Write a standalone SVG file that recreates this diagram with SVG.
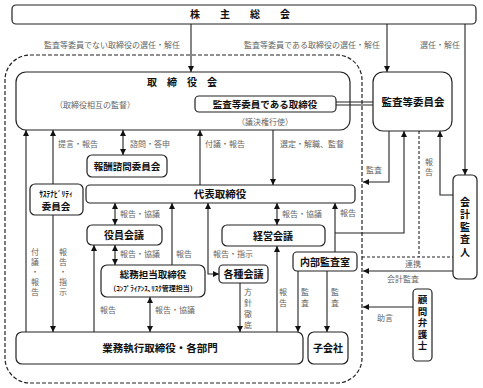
<svg xmlns="http://www.w3.org/2000/svg" width="483" height="388" viewBox="0 0 483 388">
<defs>
<marker id="a" markerUnits="userSpaceOnUse" markerWidth="7" markerHeight="6" refX="6" refY="3" orient="auto-start-reverse"><path d="M0,0 L6,3 L0,6 z" fill="#111"/></marker>
<style>
.bx{fill:#fff;stroke:#222;stroke-width:1.2}
.ln{fill:none;stroke:#222;stroke-width:1.1}
.ar{marker-end:url(#a)}
.da{marker-start:url(#a);marker-end:url(#a)}
.t{font-family:"Noto Sans CJK JP","Noto Sans CJK SC",sans-serif;font-weight:bold;fill:#111;text-anchor:middle}
.l{font-family:"Noto Sans CJK JP","Noto Sans CJK SC",sans-serif;font-size:8px;fill:#666}
.c{text-anchor:middle}
.v{writing-mode:vertical-rl;text-anchor:start}
</style>
</defs>
<rect width="483" height="388" fill="#fff"/>
<rect x="5" y="55" width="357" height="328" rx="25" fill="none" stroke="#222" stroke-width="1.2" stroke-dasharray="4 2"/>

<g id="shareholders"><rect class="bx" x="12" y="5" width="464" height="19" rx="4"/><text class="t" x="240" y="18" font-size="10" textLength="100" lengthAdjust="spacing">株主総会</text></g>
<g id="board"><rect class="bx" x="16" y="72" width="334" height="58" rx="10"/><text class="t" x="182" y="86" font-size="10" textLength="70" lengthAdjust="spacing">取締役会</text><text class="l c" x="95" y="108" font-size="8.5">（取締役相互の監督）</text></g>
<g id="audit-director"><rect class="bx" x="195" y="96" width="141" height="16" rx="4"/><text class="t" x="265" y="107.5" font-size="9.5">監査等委員である取締役</text><text class="l c" x="265" y="125" font-size="8.5">（議決権行使）</text></g>
<g id="audit-committee"><rect class="bx" x="373" y="72" width="79" height="59" rx="10"/><text class="t" x="413" y="106" font-size="10.5">監査等委員会</text></g>
<g id="accounting-auditor"><rect class="bx" x="453" y="175" width="24" height="104" rx="5"/><text class="t v" x="465" y="197" font-size="10" letter-spacing="2.5">会計監査人</text></g>
<g id="compensation"><rect class="bx" x="87" y="155" width="80" height="22" rx="5"/><text class="t" x="127" y="170" font-size="9.5">報酬諮問委員会</text></g>
<g id="sustainability"><rect class="bx" x="30" y="184" width="53" height="31" rx="5"/><text class="t" x="56" y="197" font-size="7.5">ｻｽﾃﾅﾋﾞﾘﾃｨ</text><text class="t" x="56" y="210" font-size="9.5">委員会</text></g>
<g id="ceo"><rect class="bx" x="86" y="185" width="269" height="18" rx="4"/><text class="t" x="220" y="198" font-size="10.5">代表取締役</text></g>
<g id="officers-meeting"><rect class="bx" x="87" y="225" width="75" height="20" rx="5"/><text class="t" x="124" y="239" font-size="10">役員会議</text></g>
<g id="management-meeting"><rect class="bx" x="222" y="225" width="103" height="21" rx="5"/><text class="t" x="273" y="239.5" font-size="10">経営会議</text></g>
<g id="general-affairs"><rect class="bx" x="101" y="265" width="104" height="32" rx="6"/><text class="t" x="153" y="277.5" font-size="9.5">総務担当取締役</text><text class="t" x="153" y="291" font-size="7" font-weight="normal">（ｺﾝﾌﾟﾗｲｱﾝｽ､ﾘｽｸ管理担当）</text></g>
<g id="various-meetings"><rect class="bx" x="219" y="265" width="49" height="18" rx="4"/><text class="t" x="243.5" y="278" font-size="10">各種会議</text></g>
<g id="internal-audit"><rect class="bx" x="293" y="252" width="64" height="19" rx="4"/><text class="t" x="325" y="265.5" font-size="10">内部監査室</text></g>
<g id="executive"><rect class="bx" x="16" y="332" width="287" height="32" rx="6"/><text class="t" x="160" y="352" font-size="10.5">業務執行取締役・各部門</text></g>
<g id="subsidiary"><rect class="bx" x="308" y="332" width="40" height="32" rx="6"/><text class="t" x="328" y="352" font-size="10">子会社</text></g>
<g id="lawyer"><rect class="bx" x="413" y="289" width="19" height="72" rx="4"/><text class="t v" x="422.5" y="295" font-size="9.5" letter-spacing="2">顧問弁護士</text></g>

<g id="connectors">
<path class="ln ar" d="M191,24 V72"/>
<path class="ln ar" d="M387,24 V72"/>
<path class="ln ar" d="M465,24 V175"/>
<path class="ln" d="M336,102 H373 M336,105 H373"/>
<path class="ln ar" d="M389,131 V182 H363"/>
<path class="ln ar" d="M453,195 H440 V131"/>
<path class="ln" d="M419,131 V257 M362,257 H453" stroke-dasharray="3 2"/>
<path class="ln ar" d="M335,252 V203"/>
<path class="ln ar" d="M335,233 H404 V131"/>
<path class="ln ar" d="M453,271 H363"/>
<path class="ln ar" d="M413,307 H363"/>
<path class="ln ar" d="M273,130 V185"/>
<path class="ln ar" d="M200,185 V130"/>
<path class="ln da" d="M123,130 V155"/>
<path class="ln ar" d="M53,184 V130"/>
<path class="ln ar" d="M26,332 V130"/>
<path class="ln ar" d="M53,215 V332"/>
<path class="ln da" d="M115,203 V225"/>
<path class="ln ar" d="M172,265 V203"/>
<path class="ln da" d="M219,274 H208 V203"/>
<path class="ln da" d="M277,203 V225"/>
<path class="ln da" d="M115,245 V265"/>
<path class="ln ar" d="M94,332 V245"/>
<path class="ln da" d="M150,297 V332"/>
<path class="ln ar" d="M240,283 V332"/>
<path class="ln ar" d="M277,332 V246"/>
<path class="ln ar" d="M298,271 V332"/>
<path class="ln ar" d="M327,271 V332"/>
</g>

<g id="labels">
<text class="l c" x="112" y="48">監査等委員でない取締役の選任・解任</text>
<text class="l c" x="312" y="48">監査等委員である取締役の選任・解任</text>
<text class="l c" x="440" y="48">選任・解任</text>
<text class="l" x="58" y="147">提言・報告</text>
<text class="l" x="130" y="147">諮問・答申</text>
<text class="l" x="205" y="147">付議・報告</text>
<text class="l" x="280" y="147">選定・解職、監督</text>
<text class="l c" x="374" y="173">監査</text>
<text class="l c"><tspan x="429" y="165">報</tspan><tspan x="429" y="175">告</tspan></text>
<text class="l" x="120" y="217">報告・協議</text>
<text class="l" x="282" y="217">報告・協議</text>
<text class="l" x="340" y="216">報告</text>
<text class="l" x="120" y="257">報告・協議</text>
<text class="l" x="176" y="257">報告</text>
<text class="l" x="213" y="257">報告・指示</text>
<text class="l c" x="413" y="267">連携</text>
<text class="l c" x="403" y="282">会計監査</text>
<text class="l c" x="385" y="321">助言</text>
<text class="l c"><tspan x="35" y="255">付</tspan><tspan x="35" y="265">議</tspan><tspan x="35" y="275">・</tspan><tspan x="35" y="285">報</tspan><tspan x="35" y="295">告</tspan></text>
<text class="l c"><tspan x="63" y="255">報</tspan><tspan x="63" y="265">告</tspan><tspan x="63" y="275">・</tspan><tspan x="63" y="285">指</tspan><tspan x="63" y="295">示</tspan></text>
<text class="l c"><tspan x="248" y="295">方</tspan><tspan x="248" y="306">針</tspan><tspan x="248" y="317">徹</tspan><tspan x="248" y="328">底</tspan></text>
<text class="l c"><tspan x="283" y="295">報</tspan><tspan x="283" y="306">告</tspan></text>
<text class="l c"><tspan x="305" y="295">監</tspan><tspan x="305" y="306">査</tspan></text>
<text class="l c"><tspan x="335" y="295">監</tspan><tspan x="335" y="306">査</tspan></text>
<text class="l" x="100" y="313">報告</text>
<text class="l" x="155" y="313">報告・協議</text>
</g>
</svg>
